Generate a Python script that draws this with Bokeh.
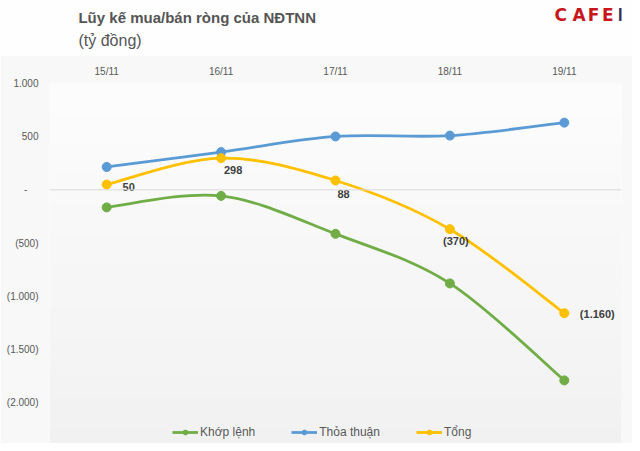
from bokeh.plotting import figure
from bokeh.layouts import column
from bokeh.models import (ColumnDataSource, Label, Legend, LegendItem, FixedTicker,
                          Span, BoxAnnotation, Range1d)
from bokeh.embed import file_html
from bokeh.resources import INLINE
from bokeh.core.properties import value

# ---------------- data ----------------
dates = ["15/11", "16/11", "17/11", "18/11", "19/11"]
khop_lenh = [-165, -57, -414, -880, -1792]
thoa_thuan = [215, 355, 502, 510, 632]
tong = [50, 298, 88, -370, -1160]
y_ticks = [-2000, -1500, -1000, -500, 0, 500, 1000]

title_text = "Lũy kế mua/bán ròng của NĐTNN"
subtitle_text = "(tỷ đồng)"
logo_letters = ["C", "A", "F", "E", "F"]


def vn_fmt(v):
    if v == 0:
        return "-    "
    s = f"{abs(v):,}".replace(",", ".")
    return f"({s})" if v < 0 else s


xs = list(range(len(dates)))

W = 632
H_TOP = 55                 # header strip (title + logo)
H_MAIN = 443 - H_TOP
FONT = "Liberation Sans"
TXT = "#595959"

# ---------------- header figure ----------------
t = figure(width=W, height=H_TOP, output_backend="svg", toolbar_location=None,
           x_range=Range1d(0, W), y_range=Range1d(H_TOP, 0),
           x_axis_type=None, y_axis_type=None, min_border=0)
t.grid.visible = False
t.outline_line_color = None
t.background_fill_color = "#fefefe"
t.border_fill_color = "#fefefe"
t.add_layout(Label(x=32, y=17, text=title_text, text_font=FONT, text_font_size="15px",
                   text_font_style="bold", text_color="#555555", text_baseline="middle"))
t.add_layout(Label(x=32, y=40, text=subtitle_text, text_font=FONT, text_font_size="16px",
                   text_color="#555555", text_baseline="middle"))
logo_x = [565, 585, 601, 617, 634]
logo_c = ["#c8161d", "#c8161d", "#c8161d", "#c8161d", "#1b3a6b"]
for ch, lx, lc in zip(logo_letters, logo_x, logo_c):
    t.add_layout(Label(x=lx, y=14, text=ch, text_font="DejaVu Sans", text_font_size="17px",
                       text_font_style="bold", text_color=lc, text_align="center",
                       text_baseline="middle"))

# ---------------- main figure ----------------
FL, FT_C = 49, 83          # frame left, frame top (canvas px)
FT = FT_C - H_TOP
Y_TOP, Y_BOT = 1000, -2000
Y_TOP_PX, Y_BOT_PX = 83, 402
upp = (Y_TOP - Y_BOT) / (Y_BOT_PX - Y_TOP_PX)
y_lo = Y_BOT - (443 - Y_BOT_PX) * upp

p = figure(width=W, height=H_MAIN, output_backend="svg", toolbar_location=None,
           x_range=Range1d(-0.5, 4.5), y_range=Range1d(y_lo, Y_TOP),
           x_axis_location="above",
           min_border_left=FL, min_border_right=11, min_border_top=FT, min_border_bottom=0)
p.border_fill_color = "#f8f8f8"
p.background_fill_color = None
p.outline_line_color = None
p.xgrid.visible = False
p.ygrid.visible = False

# background gradient bands inside the frame (white -> light grey)
nb = 24
fh = H_MAIN - FT
for i in range(nb):
    top_rel = fh - i * fh / nb
    bot_rel = fh - (i + 1) * fh / nb - 1
    cy = FT_C + (i + 0.5) * fh / nb
    c = int(round(255 - 14 * cy / 443))
    col = "#%02x%02x%02x" % (c, c, c)
    p.add_layout(BoxAnnotation(left=0, right=W, top=top_rel, bottom=bot_rel,
                               left_units="screen", right_units="screen",
                               top_units="screen", bottom_units="screen",
                               fill_color=col, fill_alpha=1.0, line_color=None, level="underlay"))

# axes
xa = p.xaxis[0]
xa.ticker = FixedTicker(ticks=xs)
xa.major_label_overrides = {i: d for i, d in enumerate(dates)}
ya = p.yaxis[0]
ya.ticker = FixedTicker(ticks=y_ticks)
ya.major_label_overrides = {v: vn_fmt(v) for v in y_ticks}
for ax in (xa, ya):
    ax.axis_line_color = None
    ax.major_tick_line_color = None
    ax.minor_tick_line_color = None
    ax.major_tick_out = 0
    ax.major_tick_in = 0
    ax.minor_tick_out = 0
    ax.major_label_text_font = FONT
    ax.major_label_text_font_size = "10px"
    ax.major_label_text_color = TXT
xa.major_label_standoff = 7
ya.major_label_standoff = 11

p.add_layout(Span(location=0, dimension="width", line_color="#d9d9d9", line_width=1))


def bez(vals):
    n = len(vals)
    pts = list(zip(xs, vals))
    d = dict(x0=[], y0=[], x1=[], y1=[], cx0=[], cy0=[], cx1=[], cy1=[])
    for i in range(n - 1):
        p0 = pts[i - 1] if i > 0 else pts[i]
        p1 = pts[i]
        p2 = pts[i + 1]
        p3 = pts[i + 2] if i + 2 < n else pts[i + 1]
        d["x0"].append(p1[0]); d["y0"].append(p1[1])
        d["x1"].append(p2[0]); d["y1"].append(p2[1])
        d["cx0"].append(p1[0] + (p2[0] - p0[0]) / 6); d["cy0"].append(p1[1] + (p2[1] - p0[1]) / 6)
        d["cx1"].append(p2[0] - (p3[0] - p1[0]) / 6); d["cy1"].append(p2[1] - (p3[1] - p1[1]) / 6)
    return ColumnDataSource(d)


series = [("Khớp lệnh", khop_lenh, "#70ad47"),
          ("Thỏa thuận", thoa_thuan, "#5b9bd5"),
          ("Tổng", tong, "#ffc000")]
items = []
for name, vals, col in series:
    b = p.bezier(x0="x0", y0="y0", x1="x1", y1="y1", cx0="cx0", cy0="cy0", cx1="cx1", cy1="cy1",
                 source=bez(vals), line_color=col, line_width=2.8)
    s = p.scatter(xs, vals, size=9, fill_color=col, line_color=col)
    items.append(LegendItem(label=name, renderers=[b, s]))

# data labels for total (x_offset right, y_offset down in px)
lab_dx = [22, 12, 8, 6, 33]
lab_dy = [2, 12, 14, 12, 1]
src = ColumnDataSource(dict(x=xs, y=tong, t=[vn_fmt(v) for v in tong], dx=lab_dx, dy=lab_dy))
p.text(x="x", y="y", text="t", x_offset="dx", y_offset="dy", source=src,
       text_align="center", text_baseline="middle", text_font=value(FONT),
       text_font_size="11px", text_font_style="bold", text_color="#404040")

legend = Legend(items=items, orientation="horizontal", location=(123, 4),
                glyph_width=26, glyph_height=12, label_standoff=2, spacing=36,
                padding=0, margin=0, border_line_color=None, background_fill_alpha=0,
                label_text_font=FONT, label_text_font_size="12px", label_text_color=TXT)
p.add_layout(legend)

layout = column(t, p, spacing=0)
open("out.html", "w").write(file_html(layout, INLINE))
